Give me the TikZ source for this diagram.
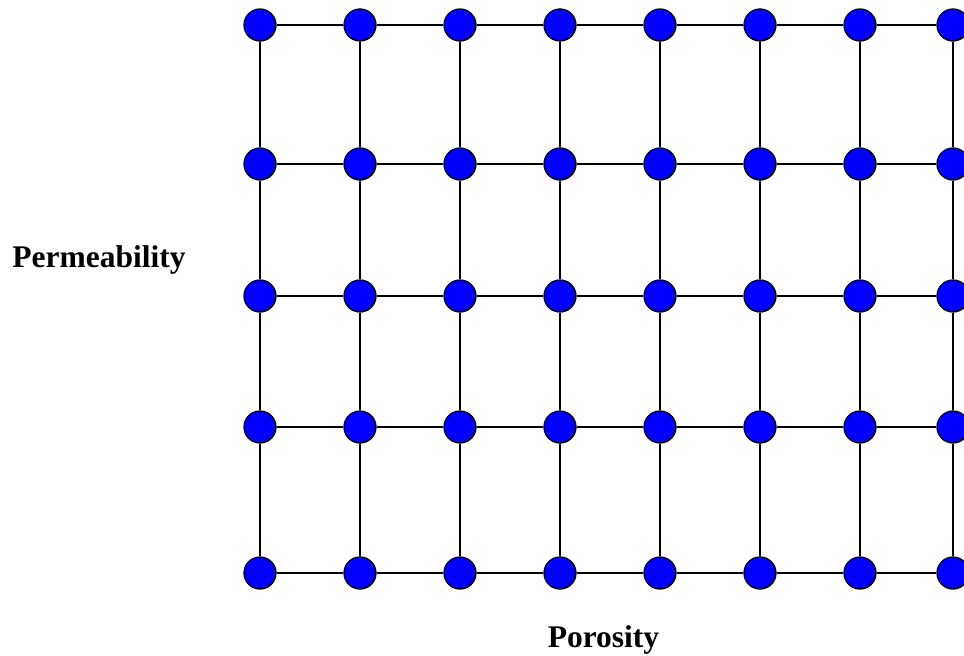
\documentclass[tikz,border=0pt]{standalone}
\usepackage{fontspec}
\setmainfont{Liberation Serif}
\usetikzlibrary{positioning}
\tikzset{
    grid_site/.style={
        circle, draw=black, line width=1.3pt, fill=blue,
        minimum size=32pt, inner sep=0pt
    },
    grid_link/.style={
        draw=black, line width=1.2pt
    },
    axis_lbl/.style={
        font=\fontsize{31.5}{36}\selectfont\bfseries, inner sep=0pt, anchor=base
    }
}

\begin{document}
\begin{tikzpicture}[x=1pt, y=-1pt]

    \useasboundingbox (0,0) rectangle (964,656);

    % --- Lattice sites (columns x rows) ---
    \foreach \c/\x in {1/260,2/360,3/460,4/560,5/660,6/760,7/860,8/953}
        \foreach \r/\y in {1/25,2/164,3/296,4/427,5/573}
            \node[grid_site] (s-\c-\r) at (\x,\y) {};

    % --- Horizontal links ---
    \foreach \c/\n in {1/2,2/3,3/4,4/5,5/6,6/7,7/8}
        \foreach \r in {1,...,5}
            \draw[grid_link] (s-\c-\r) -- (s-\n-\r);

    % --- Vertical links ---
    \foreach \c in {1,...,8}
        \foreach \r/\m in {1/2,2/3,3/4,4/5}
            \draw[grid_link] (s-\c-\r) -- (s-\c-\m);

    % --- Axis labels ---
    \node[axis_lbl] (perm) at (99,267) {Permeability};
    \node[axis_lbl] (poro) at (603.5,647) {Porosity};

\end{tikzpicture}
\end{document}
